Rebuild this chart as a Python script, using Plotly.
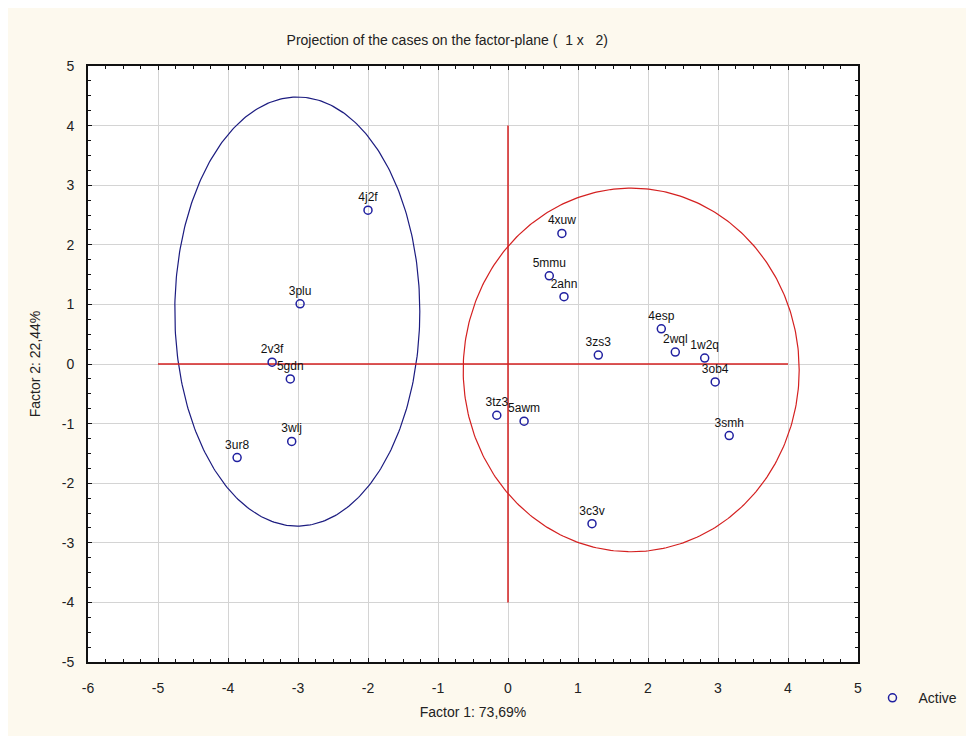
import numpy as np
import plotly.graph_objects as go

# ---- data ----
case_labels = ["4j2f", "3plu", "2v3f", "5gdn", "3wlj", "3ur8",
               "4xuw", "5mmu", "2ahn", "3zs3", "3tz3", "5awm",
               "4esp", "2wql", "1w2q", "3ob4", "3smh", "3c3v"]
factor1 = [-2.0, -2.97, -3.37, -3.11, -3.09, -3.87,
           0.77, 0.59, 0.80, 1.29, -0.16, 0.23,
           2.19, 2.39, 2.81, 2.96, 3.16, 1.20]
factor2 = [2.58, 1.01, 0.03, -0.25, -1.30, -1.57,
           2.19, 1.48, 1.13, 0.15, -0.86, -0.96,
           0.59, 0.20, 0.10, -0.30, -1.20, -2.68]

# ellipses: center x, center y, semi-axis x, semi-axis y
ell_cx = [-3.01, 1.76]
ell_cy = [0.88, -0.10]
ell_rx = [1.75, 2.40]
ell_ry = [3.60, 3.05]
ell_colors = ["#1c1c80", "#d42020"]

# red reference lines
hline_x = [-5, 4]
vline_y = [-4, 4]

x_ticks = list(range(-6, 6))
y_ticks = list(range(-5, 6))
x_ticktext = [str(v) for v in x_ticks]
y_ticktext = [str(v) for v in y_ticks]

fig = go.Figure()

t = np.linspace(0, 2 * np.pi, 361)
for cx, cy, rx, ry, col in zip(ell_cx, ell_cy, ell_rx, ell_ry, ell_colors):
    fig.add_trace(go.Scatter(x=cx + rx * np.cos(t), y=cy + ry * np.sin(t),
                             mode="lines", line=dict(color=col, width=1.2),
                             showlegend=False, hoverinfo="skip"))

fig.add_trace(go.Scatter(x=hline_x, y=[0, 0], mode="lines",
                         line=dict(color="#d42020", width=1.5),
                         showlegend=False, hoverinfo="skip"))
fig.add_trace(go.Scatter(x=[0, 0], y=vline_y, mode="lines",
                         line=dict(color="#d42020", width=1.5),
                         showlegend=False, hoverinfo="skip"))

fig.add_trace(go.Scatter(
    x=factor1, y=factor2, mode="markers+text", name="Active",
    text=case_labels, textposition="top center",
    textfont=dict(family="Liberation Sans Narrow, Liberation Sans, Arial", size=12, color="#111111"),
    marker=dict(symbol="circle-open", size=8, color="#2020a0", line=dict(width=1.5, color="#2020a0")),
))

axis_common = dict(
    showgrid=True, gridcolor="#d4d4d4", gridwidth=1, automargin=False,
    zeroline=False, showline=True, linecolor="#111111", linewidth=2, mirror="allticks",
    ticks="inside", ticklen=4, tickcolor="#111111", tickwidth=1,
    minor=dict(ticks="inside", ticklen=3, tickcolor="#111111", dtick=0.25, showgrid=False),
    tickfont=dict(family="Liberation Sans, Arial", size=14, color="#222222"),
)

fig.update_layout(
    width=974, height=736,
    paper_bgcolor="#fdf9ee", plot_bgcolor="#ffffff",
    margin=dict(l=80, r=124, t=58, b=82),
    font=dict(family="Liberation Sans, Arial", size=13, color="#222222"),
    title=dict(text="Projection of the cases on the factor-plane (  1 x   2)",
               x=0.451, xanchor="center", y=0.957, yanchor="middle",
               font=dict(size=14, color="#222222")),
    xaxis=dict(range=[-6, 5], tickvals=x_ticks, ticktext=x_ticktext, ticklabelstandoff=12,
               title=dict(text="Factor 1: 73,69%", standoff=12, font=dict(size=14)), **axis_common),
    yaxis=dict(range=[-5, 5], tickvals=y_ticks, ticktext=y_ticktext, ticklabelstandoff=9,
               title=dict(text="Factor 2: 22,44%", standoff=18, font=dict(size=14)), **axis_common),
    legend=dict(x=1.011, y=-0.034, xanchor="left", yanchor="top", itemwidth=42,
                bgcolor="rgba(0,0,0,0)", font=dict(size=14)),
    showlegend=True,
)

fig.write_html("out.html")
